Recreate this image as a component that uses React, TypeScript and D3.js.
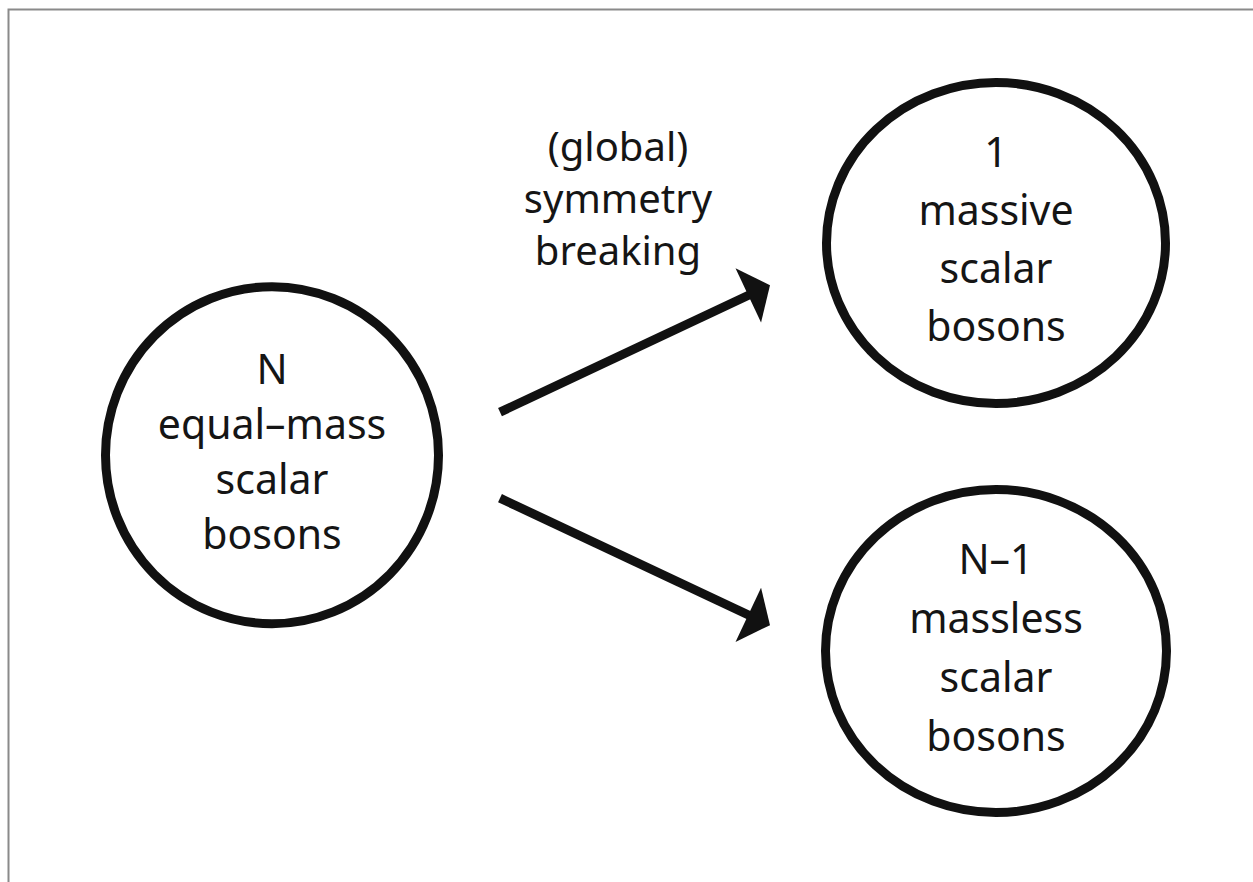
import { useEffect, useRef } from 'react';
import * as d3 from 'd3';

// ---- Diagram content ------------------------------------------------------
const NODE_IDS = ['source', 'massive', 'massless'];
const NODE_LABELS = [
  ['N', 'equal–mass', 'scalar', 'bosons'],
  ['1', 'massive', 'scalar', 'bosons'],
  ['N–1', 'massless', 'scalar', 'bosons'],
];
// stage (column) and row of each node in the abstract layout grid
const NODE_STAGE = [0, 1, 1];
const NODE_ROW = [0.52, 0, 1];
const EDGES: [string, string][] = [
  ['source', 'massive'],
  ['source', 'massless'],
];
const EDGE_LABEL = ['(global)', 'symmetry', 'breaking'];

const WIDTH = 1253;
const HEIGHT = 882;
const FONT = '"Noto Sans", "Open Sans", sans-serif';
const INK = '#111111';

export default function App() {
  const svgRef = useRef<SVGSVGElement | null>(null);

  useEffect(() => {
    const svgEl = svgRef.current;
    if (!svgEl) return;
    const svg = d3.select(svgEl);
    svg.selectAll('*').remove();

    svg.append('rect').attr('width', WIDTH).attr('height', HEIGHT).attr('fill', '#ffffff');

    // thin grey frame, top and left only (as in the scan)
    svg
      .append('path')
      .attr('d', `M8.5,${HEIGHT} L8.5,9.5 L${WIDTH},9.5`)
      .attr('fill', 'none')
      .attr('stroke', '#8a8a8a')
      .attr('stroke-width', 2);

    const xScale = d3.scaleLinear().domain([0, 1]).range([272, 996]);
    const yScale = d3.scaleLinear().domain([0, 1]).range([243, 651]);
    const radiusX = [171, 174, 175];
    const radiusY = [173, 165, 166];
    const lineGap = [55, 58, 59];

    const nodes = NODE_IDS.map((id, i) => ({
      id,
      x: xScale(NODE_STAGE[i]),
      y: yScale(NODE_ROW[i]),
      rx: radiusX[i],
      ry: radiusY[i],
      labels: NODE_LABELS[i],
      gap: lineGap[i],
    }));
    const byId = new Map(nodes.map((n) => [n.id, n]));

    // ---- Nodes -------------------------------------------------------------
    const nodeG = svg
      .append('g')
      .selectAll('g.node')
      .data(nodes)
      .join('g')
      .attr('class', 'node')
      .attr('transform', (d) => `translate(${d.x}, ${d.y})`);

    nodeG
      .append('ellipse')
      .attr('rx', (d) => d.rx - 4.5)
      .attr('ry', (d) => d.ry - 4.5)
      .attr('fill', 'none')
      .attr('stroke', INK)
      .attr('stroke-width', 9);

    nodeG.each(function (d) {
      const g = d3.select(this);
      const n = d.labels.length;
      d.labels.forEach((label, k) => {
        g.append('text')
          .attr('x', 0)
          .attr('y', (k - (n - 1) / 2) * d.gap + 11)
          .attr('text-anchor', 'middle')
          .attr('font-family', FONT)
          .attr('font-size', 41)
          .attr('fill', '#151515')
          .text(label);
      });
    });

    // ---- Arrows ------------------------------------------------------------
    const line = d3.line<[number, number]>();
    EDGES.forEach(([from, to]) => {
      const a = byId.get(from)!;
      const b = byId.get(to)!;
      const dir = b.y < a.y ? -1 : 1;
      const tail: [number, number] = [a.x + 228, a.y + dir * 43];
      const tip: [number, number] = [b.x - 226, a.y + dir * 170];
      const ang = Math.atan2(tip[1] - tail[1], tip[0] - tail[0]);
      const headLen = 24;
      const halfW = 30;
      const back: [number, number] = [tip[0] - headLen * Math.cos(ang), tip[1] - headLen * Math.sin(ang)];
      const nx = -Math.sin(ang);
      const ny = Math.cos(ang);
      svg
        .append('path')
        .attr('d', line([tail, [back[0] + 2 * Math.cos(ang), back[1] + 2 * Math.sin(ang)]]))
        .attr('stroke', INK)
        .attr('stroke-width', 9)
        .attr('fill', 'none');
      svg
        .append('path')
        .attr(
          'd',
          line([
            tip,
            [back[0] + nx * halfW, back[1] + ny * halfW],
            [back[0] - nx * halfW, back[1] - ny * halfW],
          ]) + 'Z'
        )
        .attr('fill', INK);
    });

    // ---- Edge label --------------------------------------------------------
    EDGE_LABEL.forEach((label, k) => {
      svg
        .append('text')
        .attr('x', 618)
        .attr('y', 161 + k * 52)
        .attr('text-anchor', 'middle')
        .attr('font-family', FONT)
        .attr('font-size', 40)
        .attr('fill', '#151515')
        .text(label);
    });
  }, []);

  return (
    <svg
      ref={svgRef}
      width={WIDTH}
      height={HEIGHT}
      viewBox={`0 0 ${WIDTH} ${HEIGHT}`}
      style={{ position: 'absolute', left: 0, top: 0, display: 'block' }}
      role="img"
      aria-label="N equal-mass scalar bosons split by global symmetry breaking into 1 massive and N-1 massless scalar bosons"
    />
  );
}
